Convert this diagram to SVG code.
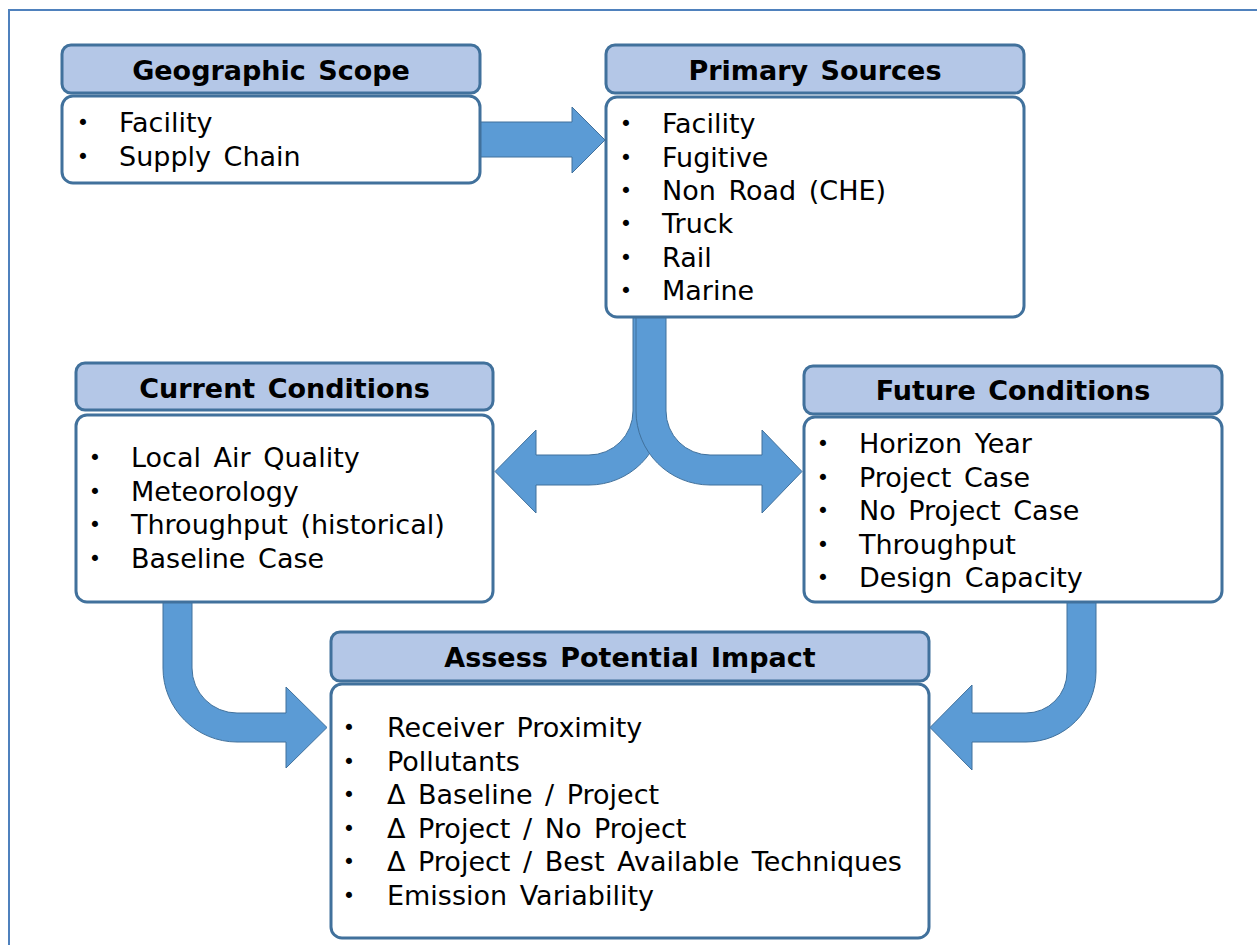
<svg xmlns="http://www.w3.org/2000/svg" width="1257" height="945" viewBox="0 0 1257 945">
<style>
.hdr{fill:#B4C7E7;stroke:#41719C;stroke-width:3}
.body{fill:#FFFFFF;stroke:#41719C;stroke-width:3}
.arrow{fill:#5B9BD5;stroke:#41719C;stroke-width:1}
.ht{font-family:"DejaVu Sans",Verdana,sans-serif;font-weight:bold;font-size:27px;word-spacing:3px;fill:#000;text-anchor:middle}
.bt{font-family:"DejaVu Sans",Verdana,sans-serif;font-size:27px;word-spacing:4px;fill:#000}
.bu{font-family:"DejaVu Sans",Verdana,sans-serif;font-size:21px;fill:#000;text-anchor:middle}
</style>
<rect width="1257" height="945" fill="#FFFFFF"/>
<path d="M9,945 V10 H1257" fill="none" stroke="#4F81BD" stroke-width="2"/>
<g id="connectors">
  <path class="arrow" d="M470,122 H572 V107 L605,140 L572,173 V157 H470 Z"/>
  <path class="arrow" d="M633,310 V411 A44,44 0 0 1 589,455 H536 V430 L495,471.5 L536,513 V485 H589 A74,74 0 0 0 663,411 V310 Z"/>
  <path class="arrow" d="M666,310 V411 A44,44 0 0 0 710,455 H762 V430 L802,471.5 L762,513 V485 H710 A74,74 0 0 1 636,411 V310 Z"/>
  <path class="arrow" d="M163,595 V668 A74,74 0 0 0 237,742 H286 V768 L327,727.5 L286,687 V713 H237 A45,45 0 0 1 192,668 V595 Z"/>
  <path class="arrow" d="M1096,595 V672 A70,70 0 0 1 1026,742 H972 V770 L930,727.5 L972,685 V713 H1026 A41,41 0 0 0 1067,672 V595 Z"/>
</g>
<g id="geographic-scope">
  <rect class="hdr" x="62" y="45" width="418" height="48" rx="9"/>
  <rect class="body" x="62" y="96" width="418" height="87" rx="11"/>
  <text class="ht" x="271" y="80">Geographic Scope</text>
  <text class="bu" x="83" y="130">•</text><text class="bt" x="119" y="132">Facility</text>
  <text class="bu" x="83" y="164">•</text><text class="bt" x="119" y="166">Supply Chain</text>
</g>
<g id="primary-sources">
  <rect class="hdr" x="606" y="45" width="418" height="48" rx="9"/>
  <rect class="body" x="606" y="97" width="418" height="220" rx="11"/>
  <text class="ht" x="815" y="80">Primary Sources</text>
  <text class="bu" x="626" y="131">•</text><text class="bt" x="662" y="133">Facility</text>
  <text class="bu" x="626" y="164.5">•</text><text class="bt" x="662" y="166.5">Fugitive</text>
  <text class="bu" x="626" y="198">•</text><text class="bt" x="662" y="200">Non Road (CHE)</text>
  <text class="bu" x="626" y="231">•</text><text class="bt" x="662" y="233">Truck</text>
  <text class="bu" x="626" y="264.5">•</text><text class="bt" x="662" y="266.5">Rail</text>
  <text class="bu" x="626" y="298">•</text><text class="bt" x="662" y="300">Marine</text>
</g>
<g id="current-conditions">
  <rect class="hdr" x="76" y="363" width="417" height="47" rx="9"/>
  <rect class="body" x="76" y="415" width="417" height="187" rx="11"/>
  <text class="ht" x="284.5" y="398">Current Conditions</text>
  <text class="bu" x="95" y="465">•</text><text class="bt" x="131" y="467">Local Air Quality</text>
  <text class="bu" x="95" y="498.5">•</text><text class="bt" x="131" y="500.5">Meteorology</text>
  <text class="bu" x="95" y="532">•</text><text class="bt" x="131" y="534">Throughput (historical)</text>
  <text class="bu" x="95" y="565.5">•</text><text class="bt" x="131" y="567.5">Baseline Case</text>
</g>
<g id="future-conditions">
  <rect class="hdr" x="804" y="366" width="418" height="48" rx="9"/>
  <rect class="body" x="804" y="417" width="418" height="185" rx="11"/>
  <text class="ht" x="1013" y="400">Future Conditions</text>
  <text class="bu" x="823" y="451">•</text><text class="bt" x="859" y="453">Horizon Year</text>
  <text class="bu" x="823" y="484.5">•</text><text class="bt" x="859" y="486.5">Project Case</text>
  <text class="bu" x="823" y="518">•</text><text class="bt" x="859" y="520">No Project Case</text>
  <text class="bu" x="823" y="551.5">•</text><text class="bt" x="859" y="553.5">Throughput</text>
  <text class="bu" x="823" y="585">•</text><text class="bt" x="859" y="587">Design Capacity</text>
</g>
<g id="assess-potential-impact">
  <rect class="hdr" x="331" y="632" width="598" height="49" rx="9"/>
  <rect class="body" x="331" y="684" width="598" height="254" rx="11"/>
  <text class="ht" x="630" y="667">Assess Potential Impact</text>
  <text class="bu" x="349" y="735">•</text><text class="bt" x="387" y="737">Receiver Proximity</text>
  <text class="bu" x="349" y="768.5">•</text><text class="bt" x="387" y="770.5">Pollutants</text>
  <text class="bu" x="349" y="802">•</text><text class="bt" x="387" y="804">Δ Baseline / Project</text>
  <text class="bu" x="349" y="835.5">•</text><text class="bt" x="387" y="837.5">Δ Project / No Project</text>
  <text class="bu" x="349" y="869">•</text><text class="bt" x="387" y="871">Δ Project / Best Available Techniques</text>
  <text class="bu" x="349" y="902.5">•</text><text class="bt" x="387" y="904.5">Emission Variability</text>
</g>
</svg>
